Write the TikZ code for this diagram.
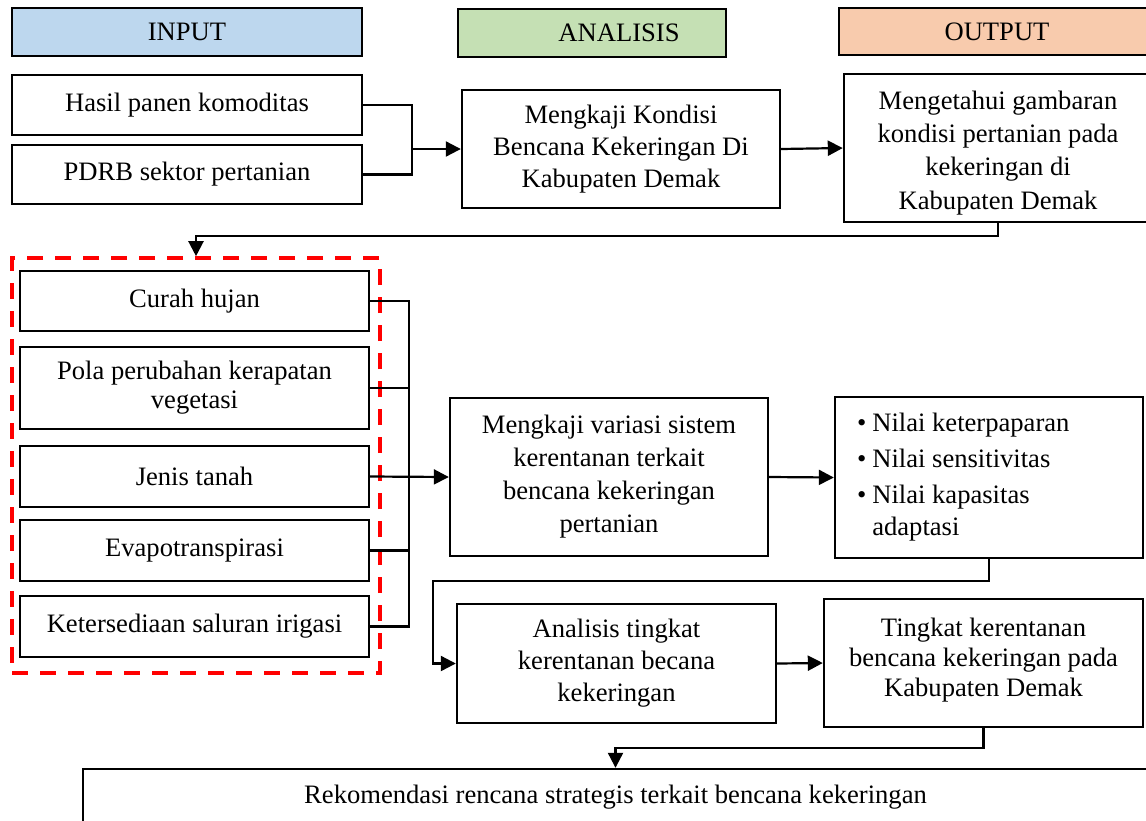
\documentclass[tikz,border=0pt]{standalone}
\usepackage{fontspec}
\setmainfont{Liberation Serif}
\usetikzlibrary{arrows.meta}
\definecolor{cin}{HTML}{BDD7EE}
\definecolor{can}{HTML}{C5E0B4}
\definecolor{cout}{HTML}{F8CBAD}
\newcommand{\nsp}{\spaceskip=0pt\xspaceskip=0pt\relax}
\begin{document}
\begin{tikzpicture}[x=0.5pt,y=-0.5pt,
  box/.style={draw, line width=1.2pt, inner sep=0pt, align=center, font=\fontsize{13.3}{16}\selectfont},
  conn/.style={line width=1.1pt},
  arr/.style={line width=1.1pt, -{Triangle[length=7.5pt,width=7.5pt]}},
  grpbox/.style={draw=red, line width=1.8pt, dash pattern=on 8pt off 6pt, inner sep=0pt}]
\useasboundingbox (0,0) rectangle (1146,820);
\clip (0,0) rectangle (1146,820);
% headers
\node[box, fill=cin, minimum width=175pt, minimum height=24pt] (hin) at (187,32) {INPUT};
\node[box, fill=can, minimum width=134pt, minimum height=24pt] (han) at (592,33) {\hspace*{27pt}ANALISIS};
\node[box, fill=cout, minimum width=158pt, minimum height=23.5pt] (hout) at (997,31.5) {OUTPUT};
% row 1
\node[box, minimum width=175pt, minimum height=30pt] (hasil) at (187,105) {\nsp Hasil panen komoditas};
\node[box, minimum width=175pt, minimum height=29.5pt] (pdrb) at (187,174.5) {\nsp PDRB sektor pertanian};
\node[box, minimum width=159pt, minimum height=59pt] (mk) at (621,149) {\nsp Mengkaji Kondisi\\Bencana Kekeringan Di\\Kabupaten Demak};
\node[box, minimum width=154pt, minimum height=74pt, font=\fontsize{13.3}{16.7}\selectfont] (mg) at (998,148) {\nsp\rule{0pt}{14pt}Mengetahui gambaran\\kondisi pertanian pada\\kekeringan di\\Kabupaten Demak};
% group
\node[grpbox, minimum width=184pt, minimum height=207.5pt] (grp) at (196,465.5) {};
\node[box, minimum width=174.5pt, minimum height=30pt] (curah) at (194.5,301) {\nsp Curah hujan};
\node[box, minimum width=174.5pt, minimum height=41pt, font=\fontsize{13.3}{14.5}\selectfont] (pola) at (194.5,388) {\nsp Pola perubahan kerapatan\\vegetasi};
\node[box, minimum width=174.5pt, minimum height=30.5pt] (jenis) at (194.5,476.5) {\nsp Jenis tanah};
\node[box, minimum width=174.5pt, minimum height=30.5pt] (evapo) at (194.5,550.5) {Evapotranspirasi};
\node[box, minimum width=174.5pt, minimum height=30.5pt] (ket) at (194.5,626.5) {\nsp Ketersediaan saluran irigasi};
% row 2
\node[box, minimum width=159pt, minimum height=79pt, font=\fontsize{13.3}{16.5}\selectfont] (mv) at (609,477) {\nsp Mengkaji variasi sistem\\kerentanan terkait\\bencana kekeringan\\pertanian};
\node[box, minimum height=80.5pt, text width=132pt, inner xsep=11pt, align=left] (nb) at (989,477.5) {\nsp\begin{tabular}{@{}l@{\hspace{3pt}}l@{}}\textbullet & Nilai keterpaparan\\[2pt] \textbullet & Nilai sensitivitas\\[2pt] \textbullet & Nilai kapasitas\\ & adaptasi\end{tabular}};
% row 3
\node[box, minimum width=159.5pt, minimum height=59.5pt] (an) at (616.5,663.5) {\nsp Analisis tingkat\\kerentanan becana\\kekeringan};
\node[box, minimum width=159.5pt, minimum height=64pt, font=\fontsize{13.3}{15}\selectfont] (tk) at (983.5,663) {\nsp Tingkat kerentanan\\bencana kekeringan pada\\Kabupaten Demak\rule[-6pt]{0pt}{6pt}};
\node[box, minimum width=532.5pt, minimum height=28.5pt] (rk) at (615.5,797.5) {\nsp Rekomendasi rencana strategis terkait bencana kekeringan};
% junctions
\coordinate (j1) at (412,149);
\coordinate (j2) at (409,477);
\coordinate (j3) at (433,663.5);
% connectors
\draw[conn] (hasil.east) -| (j1) |- (pdrb.east);
\draw[arr] (j1) -- (mk.west);
\draw[arr] (mk.east) -- (mg.west);
\draw[arr] (mg.south) -- ++(0,13) -| (grp.north);
\draw[conn] (curah.east) -| (j2) |- (ket.east);
\draw[conn] (pola.east) -- (pola.east -| j2);
\draw[conn] (evapo.east) -- (evapo.east -| j2);
\draw[arr] (jenis.east) -- (mv.west);
\draw[arr] (mv.east) -- (nb.west);
\draw[arr] (nb.south) -- ++(0,22) -| (j3) -- (an.west);
\draw[arr] (an.east) -- (tk.west);
\draw[arr] (tk.south) -- ++(0,20) -| (rk.north);
\end{tikzpicture}
\end{document}
